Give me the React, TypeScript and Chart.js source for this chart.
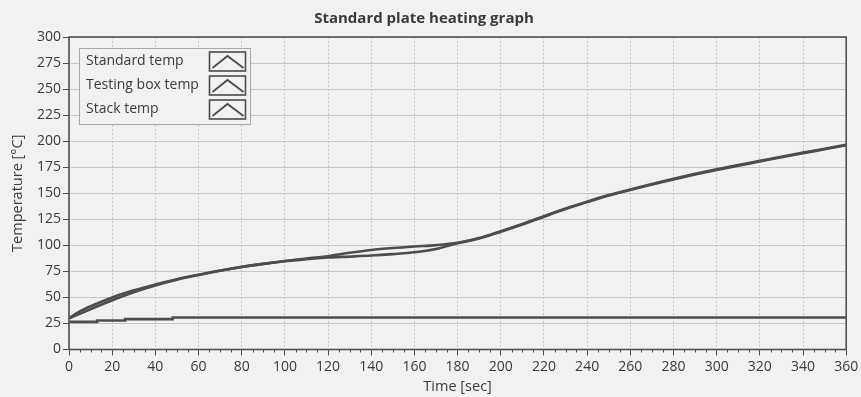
import React, { useEffect, useRef } from "react";
import { Chart, registerables } from "chart.js";

Chart.register(...registerables);

const chartTitle = "Standard plate heating graph";
const xAxisTitle = "Time [sec]";
const yAxisTitle = "Temperature [°C]";
const seriesLabels = ["Standard temp", "Testing box temp", "Stack temp"];

const timeSec = [0, 5, 10, 20, 30, 40, 50, 60, 70, 80, 90, 100, 110, 120, 130, 140, 150, 160, 170, 180, 190, 200, 210, 220, 230, 240, 250, 260, 270, 280, 290, 300, 310, 320, 330, 340, 350, 360];
const standardTemp = [30, 34.2, 38.6, 47.3, 55, 61.5, 67, 71.5, 75.6, 79.2, 82.2, 84.9, 87.4, 89.6, 92.8, 95.5, 97.4, 98.9, 100.2, 102.5, 107, 113.6, 120.6, 128, 135.3, 141.9, 148.2, 153.7, 158.9, 163.9, 168.6, 172.9, 177.1, 181.1, 185.1, 189, 192.7, 196.5];
const testingBoxTemp = [30, 36.5, 41.5, 50, 56.8, 62.5, 67.5, 71.8, 75.8, 79.3, 82.2, 84.7, 86.8, 88.3, 89.2, 90.2, 91.6, 93.3, 96.5, 102, 106.5, 113, 120, 127.5, 134.8, 141.5, 147.8, 153.2, 158.4, 163.3, 168, 172.3, 176.5, 180.5, 184.5, 188.4, 192.2, 196];
const stackTimes = [0, 13, 26, 48, 360];
const stackTemp = [26.5, 27.8, 29.2, 30.7, 30.9];

const xMin = 0;
const xMax = 360;
const xMajorStep = 20;
const xMinorStep = 5;
const yMin = 0;
const yMax = 300;
const yStep = 25;

const LINE = "#4d4d4d";
const TEXT = "#3a3a3a";
const GRID = "#c6c6c6";
const BG = "#f1f1f1";
const FONT = "'Open Sans', 'Noto Sans', sans-serif";

const toPoints = (xs: number[], ys: number[]) => xs.map((x, i) => ({ x, y: ys[i] }));

const bgPlugin = {
  id: "bgPlugin",
  beforeDraw(chart: any) {
    const { ctx } = chart;
    ctx.save();
    ctx.fillStyle = BG;
    ctx.fillRect(0, 0, chart.width, chart.height);
    ctx.restore();
  },
};

const framePlugin = {
  id: "framePlugin",
  afterDraw(chart: any) {
    const { ctx, chartArea } = chart;
    const xs = chart.scales.x;
    ctx.save();
    // minor ticks on x axis
    ctx.strokeStyle = LINE;
    ctx.lineWidth = 1;
    for (let v = xMin; v <= xMax; v += xMinorStep) {
      if (v % xMajorStep === 0) continue;
      const px = Math.round(xs.getPixelForValue(v)) + 0.5;
      ctx.beginPath();
      ctx.moveTo(px, chartArea.bottom);
      ctx.lineTo(px, chartArea.bottom + 3);
      ctx.stroke();
    }
    // frame
    ctx.strokeStyle = "#505050";
    ctx.lineWidth = 1.6;
    ctx.strokeRect(chartArea.left, chartArea.top, chartArea.right - chartArea.left, chartArea.bottom - chartArea.top);

    // legend box
    const lx = 79.5, ly = 48.5, lw = 171, lh = 76;
    ctx.fillStyle = BG;
    ctx.fillRect(lx, ly, lw, lh);
    ctx.strokeStyle = "#a8a8a8";
    ctx.lineWidth = 1;
    ctx.strokeRect(lx, ly, lw, lh);
    ctx.font = `14px ${FONT}`;
    ctx.fillStyle = TEXT;
    ctx.textAlign = "left";
    ctx.textBaseline = "middle";
    chart.data.datasets.forEach((ds: any, i: number) => {
      const cy = 61.5 + i * 24;
      ctx.fillText(ds.label, 86, cy);
      const ix = 209.5, iy = cy - 9.5, iw = 36, ih = 19;
      ctx.strokeStyle = "#4a4a4a";
      ctx.lineWidth = 1.6;
      ctx.strokeRect(ix, iy, iw, ih);
      ctx.strokeStyle = ds.borderColor;
      ctx.lineWidth = 1.8;
      ctx.beginPath();
      ctx.moveTo(ix + 3, iy + ih - 3);
      ctx.lineTo(ix + iw / 2, iy + 4);
      ctx.lineTo(ix + iw - 2, iy + ih - 3);
      ctx.stroke();
    });
    ctx.restore();
  },
};

export default function App() {
  const canvasRef = useRef<HTMLCanvasElement | null>(null);

  useEffect(() => {
    document.body.style.margin = "0";
    document.body.style.background = BG;
    const canvas = canvasRef.current;
    if (!canvas) return;
    const chart = new Chart(canvas, {
      type: "line",
      data: {
        datasets: [
          {
            label: seriesLabels[0],
            data: toPoints(timeSec, standardTemp),
            borderColor: LINE,
            borderWidth: 2.6,
            pointRadius: 0,
            cubicInterpolationMode: "monotone",
          },
          {
            label: seriesLabels[1],
            data: toPoints(timeSec, testingBoxTemp),
            borderColor: LINE,
            borderWidth: 2.6,
            pointRadius: 0,
            cubicInterpolationMode: "monotone",
          },
          {
            label: seriesLabels[2],
            data: toPoints(stackTimes, stackTemp),
            borderColor: LINE,
            borderWidth: 2.6,
            pointRadius: 0,
            stepped: "before",
          },
        ],
      } as any,
      options: {
        responsive: false,
        animation: false,
        layout: { padding: { top: 0, right: 13, bottom: 0, left: 0 } },
        plugins: {
          legend: { display: false },
          tooltip: { enabled: false },
          title: {
            display: true,
            text: chartTitle,
            color: TEXT,
            font: { family: FONT, size: 15, weight: "bold" },
            padding: { top: 10, bottom: 9 },
          },
        },
        scales: {
          x: {
            type: "linear",
            min: xMin,
            max: xMax,
            afterFit: (s: any) => { s.height = 47.5; },
            ticks: {
              stepSize: xMajorStep,
              autoSkip: false,
              maxRotation: 0,
              color: TEXT,
              padding: 2.8,
              font: { family: FONT, size: 14 },
            },
            grid: {
              color: GRID,
              lineWidth: 1,
              tickColor: LINE,
              tickLength: 6,
              tickBorderDash: [],
            },
            border: { display: false, dash: [2, 2] },
            title: {
              display: true,
              text: xAxisTitle,
              color: TEXT,
              font: { family: FONT, size: 14.5 },
              padding: { top: 0, bottom: 1.6 },
            },
          },
          y: {
            type: "linear",
            min: yMin,
            max: yMax,
            afterFit: (s: any) => { s.width = 69; },
            ticks: {
              stepSize: yStep,
              color: TEXT,
              padding: 2,
              font: { family: FONT, size: 14 },
            },
            grid: {
              color: GRID,
              lineWidth: 1,
              tickColor: LINE,
              tickLength: 6,
            },
            border: { display: false },
            title: {
              display: true,
              text: yAxisTitle,
              color: TEXT,
              font: { family: FONT, size: 14.5 },
              padding: { top: 9.6, bottom: 0 },
            },
          },
        },
      } as any,
      plugins: [bgPlugin, framePlugin],
    });
    return () => chart.destroy();
  }, []);

  return (
    <div style={{ width: 861, height: 397 }}>
      <canvas ref={canvasRef} width={861} height={397} style={{ display: "block" }} />
    </div>
  );
}
